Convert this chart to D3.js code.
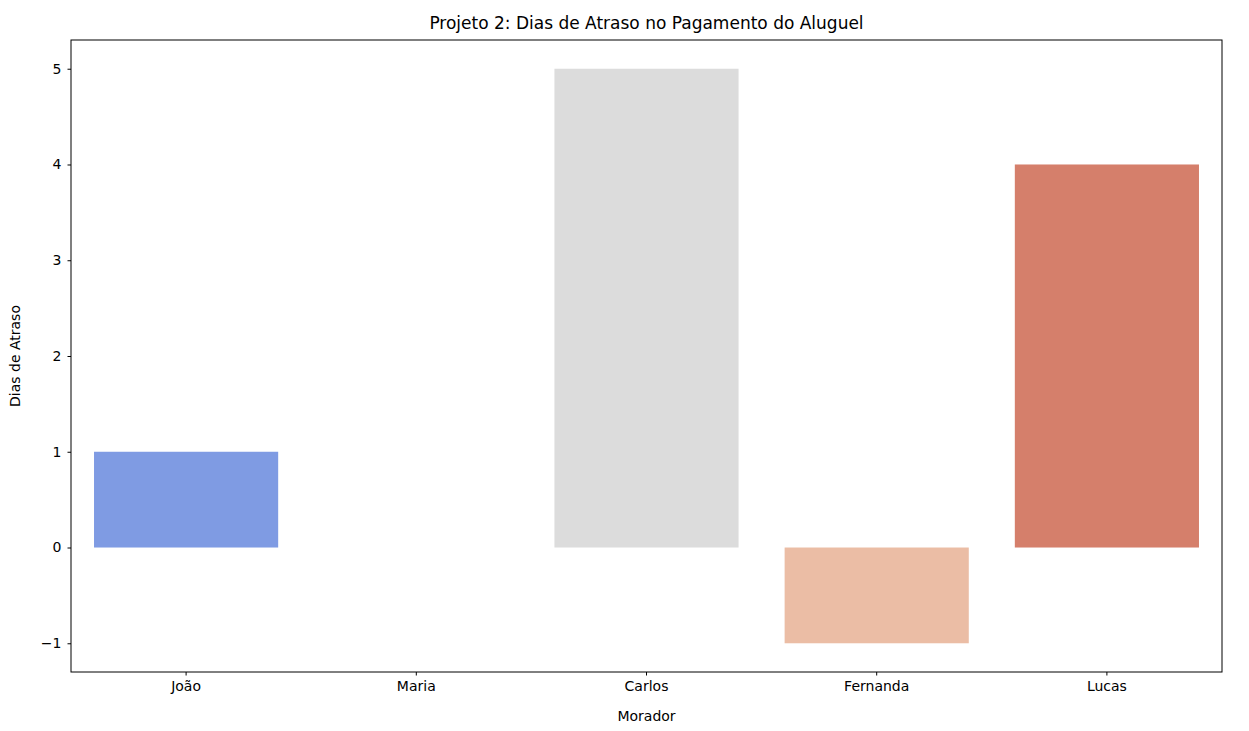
<!DOCTYPE html>
<html><head><meta charset="utf-8">
<script src="https://d3js.org/d3.v7.min.js"></script>
<style>body{margin:0;background:#fff}text{font-family:"DejaVu Sans",sans-serif}</style>
</head><body>
<script>
const categories = ["João","Maria","Carlos","Fernanda","Lucas"];
const values = [1,0,5,-1,4];
const colors = ["#7f9be3","#b0c9f8","#dcdcdc","#ebbda5","#d57f6b"];
const yTicks = [-1,0,1,2,3,4,5];

const W=1249,H=731,m={l:71,r:27,t:40,b:59};
const svg=d3.select("body").append("svg").attr("width",W).attr("height",H);
const x=d3.scaleBand().domain(categories).range([m.l,W-m.r]).paddingInner(0.2).paddingOuter(0.1);
const y=d3.scaleLinear().domain([-1.3,5.3]).range([H-m.b,m.t]);

svg.selectAll("rect.bar").data(categories).enter().append("rect")
 .attr("x",d=>x(d)).attr("width",x.bandwidth())
 .attr("y",(d,i)=>y(Math.max(0,values[i])))
 .attr("height",(d,i)=>Math.abs(y(values[i])-y(0)))
 .attr("fill",(d,i)=>colors[i]);

const fmt=d=>d<0?"\u2212"+Math.abs(d):String(d);
const ga=svg.append("g").attr("transform",`translate(${m.l},0)`).call(d3.axisLeft(y).tickValues(yTicks).tickFormat(fmt).tickSizeOuter(0).tickSize(3.5).tickPadding(6));
const gb=svg.append("g").attr("transform",`translate(0,${H-m.b})`).call(d3.axisBottom(x).tickSizeOuter(0).tickSize(3.5).tickPadding(6));
[ga,gb].forEach(g=>{g.selectAll("text").attr("font-size",14).attr("fill","#000");g.select(".domain").remove();});
svg.append("rect").attr("x",m.l).attr("y",m.t).attr("width",W-m.l-m.r).attr("height",H-m.t-m.b).attr("fill","none").attr("stroke","#000").attr("stroke-width",1);

svg.append("text").attr("x",(m.l+W-m.r)/2).attr("y",29).attr("text-anchor","middle").attr("font-size",17).text("Projeto 2: Dias de Atraso no Pagamento do Aluguel");
svg.append("text").attr("x",(m.l+W-m.r)/2).attr("y",721).attr("text-anchor","middle").attr("font-size",14).text("Morador");
svg.append("text").attr("transform",`translate(20,${(m.t+H-m.b)/2}) rotate(-90)`).attr("text-anchor","middle").attr("font-size",14).text("Dias de Atraso");
</script>
</body></html>
